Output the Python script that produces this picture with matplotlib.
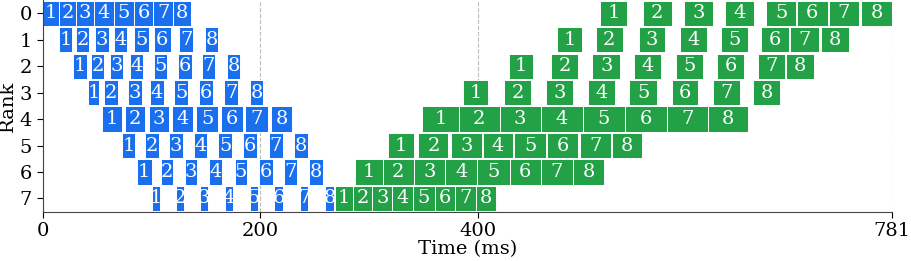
import matplotlib
matplotlib.use("Agg")
import matplotlib.pyplot as plt

# pipeline schedule: 8 ranks x 8 micro-batches, times in ms
ranks = list(range(8))
micro = [1, 2, 3, 4, 5, 6, 7, 8]

fwd_start = [
    [0.0, 15.2, 30.8, 47.4, 65.7, 84.1, 101.9, 119.7],
    [15.2, 30.8, 48.0, 65.7, 84.1, 102.3, 125.8, 149.2],
    [28.3, 44.3, 62.1, 80.5, 102.5, 124.3, 146.4, 169.4],
    [41.6, 56.8, 78.3, 98.9, 120.9, 144.2, 167.2, 190.8],
    [54.4, 75.6, 97.7, 119.1, 141.4, 164.4, 186.5, 210.1],
    [73.1, 94.3, 116.3, 139.3, 161.4, 184.1, 208.0, 231.3],
    [86.6, 108.7, 130.8, 153.4, 176.7, 199.4, 222.1, 245.3],
    [100.4, 122.5, 144.8, 167.5, 190.5, 213.2, 236.5, 259.8],
]
fwd_end = [
    [15.2, 30.8, 47.4, 65.7, 84.1, 101.9, 119.7, 136.3],
    [27.4, 43.0, 60.9, 78.0, 97.7, 117.9, 138.1, 161.4],
    [40.6, 56.6, 74.3, 92.1, 114.8, 137.2, 158.6, 181.6],
    [52.2, 69.7, 91.2, 111.7, 134.1, 157.1, 180.0, 202.5],
    [73.4, 94.5, 116.6, 138.7, 161.4, 184.1, 207.6, 229.7],
    [85.3, 107.1, 129.2, 151.5, 174.5, 197.5, 220.9, 244.1],
    [100.4, 120.3, 142.3, 165.1, 188.3, 212.2, 234.3, 257.7],
    [108.3, 130.4, 152.5, 175.4, 198.4, 220.9, 244.4, 267.8],
]
bwd_start = [
    [512.6, 551.7, 589.9, 627.6, 665.3, 693.5, 722.6, 752.6],
    [472.8, 508.7, 547.9, 585.6, 623.6, 660.7, 687.4, 715.6],
    [429.0, 467.6, 505.6, 543.4, 582.5, 620.5, 657.7, 683.7],
    [386.4, 424.6, 462.7, 501.3, 539.6, 578.6, 616.8, 653.6],
    [349.2, 382.5, 420.2, 457.9, 496.8, 535.2, 574.1, 612.1],
    [317.4, 345.6, 375.4, 404.5, 433.8, 464.2, 494.3, 523.7],
    [287.4, 312.6, 341.3, 370.1, 399.7, 429.4, 457.9, 487.6],
    [269.0, 285.3, 303.3, 321.6, 341.0, 360.5, 379.3, 398.2],
]
bwd_end = [
    [537.2, 578.6, 616.3, 654.5, 692.9, 722.0, 750.8, 781.0],
    [495.8, 533.5, 572.4, 610.8, 648.5, 685.8, 713.4, 741.6],
    [451.3, 492.1, 531.0, 568.5, 607.6, 645.3, 682.8, 708.8],
    [409.9, 448.9, 488.1, 526.4, 564.8, 603.0, 641.3, 678.2],
    [382.5, 420.2, 457.9, 496.8, 535.2, 574.1, 612.1, 649.0],
    [341.6, 373.2, 403.9, 432.9, 463.0, 492.7, 522.8, 551.5],
    [312.6, 341.3, 370.1, 399.7, 429.4, 457.9, 487.6, 516.6],
    [285.3, 303.3, 321.6, 341.0, 360.5, 379.3, 398.2, 416.7],
]
x_ticks = [0, 200, 400, 781]

FWD_COLOR = "#1a6fef"
BWD_COLOR = "#22a146"

plt.rcParams["font.family"] = "DejaVu Serif"

fig = plt.figure(figsize=(9.11, 2.61), dpi=100)
ax = fig.add_axes([0.0467, 0.189, 0.9325, 0.811])


def draw(starts, ends, color):
    for r in ranks:
        lefts = starts[r]
        widths = [e - s for s, e in zip(starts[r], ends[r])]
        ax.barh([r] * len(lefts), widths, left=lefts, height=0.95,
                color=color, edgecolor="white", linewidth=0.7, zorder=2)
        for m, s, w in zip(micro, lefts, widths):
            ax.text(s + w / 2, r, str(m), ha="center", va="center",
                    color="white", fontsize=14, zorder=3)


draw(fwd_start, fwd_end, FWD_COLOR)
draw(bwd_start, bwd_end, BWD_COLOR)

ax.set_xlim(0, 781)
ax.set_ylim(7.5, -0.5)
ax.set_yticks(ranks)
ax.set_xticks(x_ticks)
ax.tick_params(labelsize=14, length=4)
ax.set_xlabel("Time (ms)", fontsize=14, labelpad=0)
ax.set_ylabel("Rank", fontsize=14, labelpad=2)
ax.set_axisbelow(True)
ax.grid(axis="x", linestyle="--", color="#bbbbbb", linewidth=0.8)
for side in ("top", "right"):
    ax.spines[side].set_visible(False)
for side in ("left", "bottom"):
    ax.spines[side].set_color("#444444")

fig.savefig("out.png", dpi=100)
